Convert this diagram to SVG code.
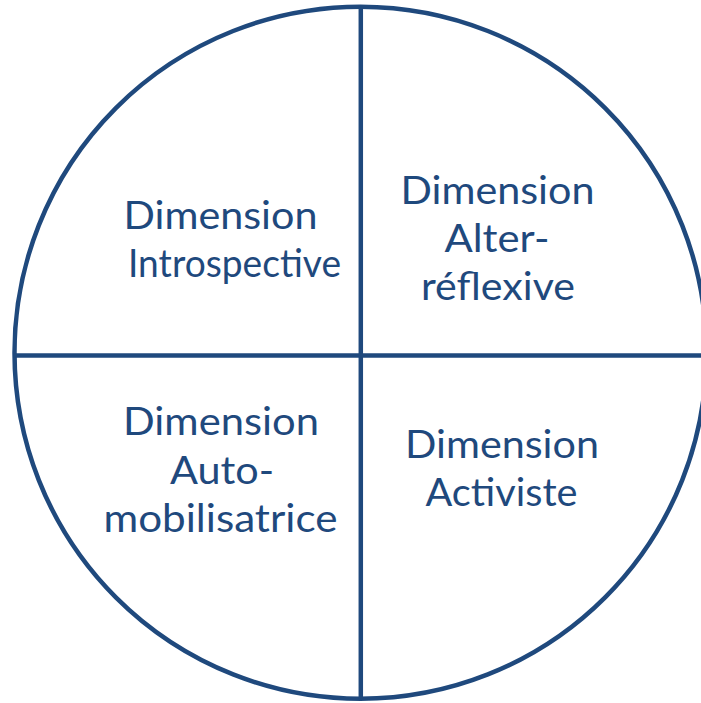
<svg xmlns="http://www.w3.org/2000/svg" width="701" height="703" viewBox="0 0 701 703">
<style>
.ln{fill:none;stroke:#1F497D;stroke-width:4.5}
.t{font-family:Lato,"Open Sans","Liberation Sans",sans-serif;font-size:38px;fill:#1F497D;text-anchor:middle}
</style>
<rect width="701" height="703" fill="#FFFFFF"/>
<g id="connectors">
<circle class="ln" cx="360.5" cy="352.7" r="346"/>
<line class="ln" x1="360.8" y1="6.7" x2="360.8" y2="698.7"/>
<line class="ln" x1="14" y1="355.5" x2="707" y2="355.5"/>
</g>
<g id="introspective">
<text class="t" x="220.5" y="228.5" textLength="194" lengthAdjust="spacingAndGlyphs">Dimension</text>
<text class="t" x="234.5" y="277" textLength="213" lengthAdjust="spacingAndGlyphs">Introspective</text>
</g>
<g id="alter-reflexive">
<text class="t" x="497.5" y="203.5" textLength="194" lengthAdjust="spacingAndGlyphs">Dimension</text>
<text class="t" x="497" y="252" textLength="105" lengthAdjust="spacingAndGlyphs">Alter-</text>
<text class="t" x="498" y="300" textLength="154" lengthAdjust="spacingAndGlyphs">réflexive</text>
</g>
<g id="auto-mobilisatrice">
<text class="t" x="221" y="434.5" textLength="196" lengthAdjust="spacingAndGlyphs">Dimension</text>
<text class="t" x="222" y="483.5" textLength="104" lengthAdjust="spacingAndGlyphs">Auto-</text>
<text class="t" x="220.5" y="532" textLength="234" lengthAdjust="spacingAndGlyphs">mobilisatrice</text>
</g>
<g id="activiste">
<text class="t" x="502" y="457.5" textLength="194" lengthAdjust="spacingAndGlyphs">Dimension</text>
<text class="t" x="501.5" y="506" textLength="152" lengthAdjust="spacingAndGlyphs">Activiste</text>
</g>
</svg>
